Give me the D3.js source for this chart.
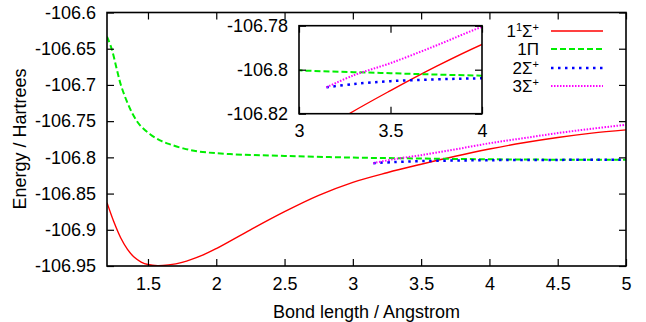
<!DOCTYPE html>
<html><head><meta charset="utf-8">
<script src="https://cdn.jsdelivr.net/npm/d3@7"></script>
<style>
body{margin:0;background:#fff;}
text{font-family:"Liberation Sans",Arial,sans-serif;fill:#000;}
</style></head>
<body><svg id="c" width="646" height="322"></svg>
<script>
// ---- data ----
const xTicks = [1.5, 2, 2.5, 3, 3.5, 4, 4.5, 5];
const yTicks = [-106.95, -106.9, -106.85, -106.8, -106.75, -106.7, -106.65, -106.6];
const insetXTicks = [3, 3.5, 4];
const insetYTicks = [-106.82, -106.8, -106.78];

const sigma1X = [1.2, 1.25, 1.3, 1.35, 1.4, 1.45, 1.5, 1.57, 1.65, 1.75, 1.9, 2.0, 2.25, 2.5, 2.75, 3.0, 3.25, 3.5, 3.75, 4.0, 4.25, 4.5, 4.75, 5.0];
const sigma1Y = [-106.8626, -106.889, -106.911, -106.927, -106.938, -106.9445, -106.948, -106.9495, -106.9485, -106.945, -106.935, -106.926, -106.9, -106.875, -106.8525, -106.8345, -106.8212, -106.8095, -106.7985, -106.7885, -106.7798, -106.7725, -106.7665, -106.762];

const piX = [1.2, 1.234, 1.27, 1.3, 1.344, 1.392, 1.441, 1.515, 1.588, 1.661, 1.758, 1.868, 2.1, 2.5, 3.0, 3.5, 4.0, 4.5, 5.0];
const piY = [-106.6334, -106.650, -106.677, -106.699, -106.722, -106.7416, -106.7554, -106.768, -106.7765, -106.782, -106.7876, -106.7918, -106.7955, -106.798, -106.8003, -106.8016, -106.8027, -106.8032, -106.8034];

const sigma2X = [3.15, 3.3, 3.5, 3.75, 4.0, 4.5, 5.0];
const sigma2Y = [-106.808, -106.8065, -106.8052, -106.8044, -106.8039, -106.8035, -106.8033];

const sigma3X = [3.15, 3.3, 3.5, 3.75, 4.0, 4.25, 4.5, 4.75, 5.0];
const sigma3Y = [-106.808, -106.8025, -106.797, -106.789, -106.7805, -106.7735, -106.7665, -106.7605, -106.755];

const seriesNames = ["1Σ+", "1Π", "2Σ+", "3Σ+"];
// ---------------------------------------

const zip = (xs, ys) => xs.map((x, i) => ({x, y: ys[i]}));
const series = [
  {data: zip(sigma1X, sigma1Y), color: "#ff0000", width: 1.4, dash: null},
  {data: zip(piX, piY), color: "#00ee00", width: 2, dash: "6,3"},
  {data: zip(sigma2X, sigma2Y), color: "#0000ff", width: 2.5, dash: "2.5,4.5"},
  {data: zip(sigma3X, sigma3Y), color: "#ff00ff", width: 2, dash: "1.5,1.5"}
];

const svg = d3.select("#c");
const FS = 18;
const fmt = d => String(d);

function panel(g, x, y, xt, yt, clipId) {
  const [x0, x1] = x.range(), [y0, y1] = y.range();
  g.append("clipPath").attr("id", clipId).append("rect")
    .attr("x", x0).attr("y", y1).attr("width", x1 - x0).attr("height", y0 - y1);
  const line = d3.line().x(d => x(d.x)).y(d => y(d.y)).curve(d3.curveCatmullRom.alpha(0.5));
  const cg = g.append("g").attr("clip-path", `url(#${clipId})`);
  series.forEach(s => {
    cg.append("path").attr("d", line(s.data)).attr("fill", "none")
      .attr("stroke", s.color).attr("stroke-width", s.width)
      .attr("stroke-dasharray", s.dash);
  });
  const tl = 7;
  g.append("g").attr("transform", `translate(0,${y0})`)
    .call(d3.axisBottom(x).tickValues(xt).tickSizeInner(-tl).tickSizeOuter(0).tickPadding(11).tickFormat(fmt));
  g.append("g").attr("transform", `translate(0,${y1})`)
    .call(d3.axisTop(x).tickValues(xt).tickSizeInner(-tl).tickSizeOuter(0).tickFormat(""));
  g.append("g").attr("transform", `translate(${x0},0)`)
    .call(d3.axisLeft(y).tickValues(yt).tickSizeInner(-tl).tickSizeOuter(0).tickPadding(11).tickFormat(fmt));
  g.append("g").attr("transform", `translate(${x1},0)`)
    .call(d3.axisRight(y).tickValues(yt).tickSizeInner(-tl).tickSizeOuter(0).tickFormat(""));
  g.selectAll(".domain").remove();
  g.selectAll(".tick line").attr("stroke", "#000").attr("stroke-width", 1.2);
  g.selectAll(".tick text").attr("font-size", FS).attr("font-family", "Liberation Sans, Arial, sans-serif").attr("fill", "#000");
  g.append("rect").attr("x", x0).attr("y", y1).attr("width", x1 - x0).attr("height", y0 - y1)
    .attr("fill", "none").attr("stroke", "#000").attr("stroke-width", 1.6);
}

// main
const xMain = d3.scaleLinear().domain([1.2, 5]).range([107, 626]);
const yMain = d3.scaleLinear().domain([-106.95, -106.6]).range([266, 12.5]);
const gMain = svg.append("g");
panel(gMain, xMain, yMain, xTicks, yTicks, "clipMain");

// inset
const xIn = d3.scaleLinear().domain([3, 4]).range([299, 482]);
const yIn = d3.scaleLinear().domain([-106.82, -106.78]).range([113.7, 25.7]);
const gIn = svg.append("g");
gIn.append("rect").attr("x", 299).attr("y", 25.7).attr("width", 183).attr("height", 88).attr("fill", "#fff");
panel(gIn, xIn, yIn, insetXTicks, insetYTicks, "clipIn");

// axis labels
svg.append("text").attr("x", (107 + 626) / 2).attr("y", 318).attr("text-anchor", "middle")
  .attr("font-size", FS).text("Bond length / Angstrom");
svg.append("text").attr("transform", `translate(26,139) rotate(-90)`).attr("text-anchor", "middle")
  .attr("font-size", FS).text("Energy / Hartrees");

// legend
const legY = [31, 49, 68, 86];
const LFS = 17;
const leg = svg.append("g");
series.forEach((s, i) => {
  const t = leg.append("text").attr("x", 539).attr("y", legY[i] + 6).attr("text-anchor", "end").attr("font-size", LFS);
  const name = seriesNames[i];
  if (i === 0) {
    t.append("tspan").text("1");
    t.append("tspan").attr("font-size", 11).attr("dy", -6).text("1");
    t.append("tspan").attr("dy", 6).text("Σ");
    t.append("tspan").attr("font-size", 11).attr("dy", -6).text("+");
  } else if (name.endsWith("+")) {
    t.append("tspan").text(name.slice(0, -1));
    t.append("tspan").attr("font-size", 11).attr("dy", -6).text("+");
  } else {
    t.text(name);
  }
  leg.append("line").attr("x1", 551).attr("x2", 603).attr("y1", legY[i]).attr("y2", legY[i])
    .attr("stroke", s.color).attr("stroke-width", s.width).attr("stroke-dasharray", s.dash);
});
</script></body></html>
